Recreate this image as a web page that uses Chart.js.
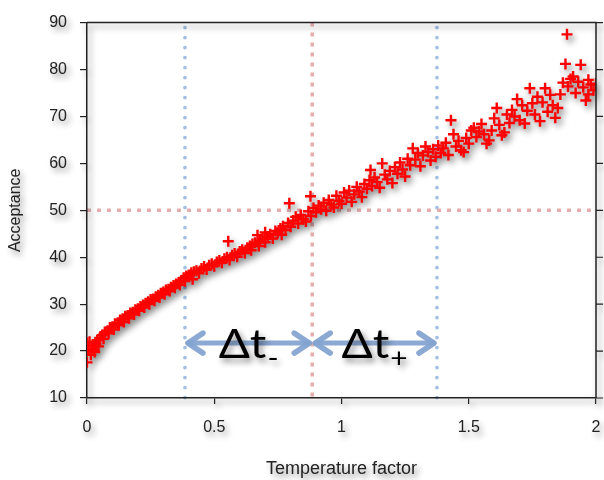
<!DOCTYPE html>
<html>
<head>
<meta charset="utf-8">
<script src="https://cdn.jsdelivr.net/npm/chart.js@4.4.0/dist/chart.umd.min.js"></script>
<style>
  body { margin: 0; background: #fff; }
  #wrap { width: 604px; height: 480px; }
</style>
</head>
<body>
<div id="wrap"><canvas id="acceptChart" width="604" height="480"></canvas></div>
<script>
// temperature factor vs. acceptance rate samples
const tempFactor = [
  0.00, 0.00, 0.005, 0.01, 0.015, 0.02, 0.025, 0.03, 0.035, 0.04, 0.045, 0.05, 0.06, 0.065, 0.07, 0.08, 0.085, 0.09,
  0.10, 0.105, 0.11, 0.12, 0.125, 0.13, 0.14, 0.145, 0.15, 0.16, 0.165, 0.17, 0.18, 0.185, 0.19,
  0.20, 0.205, 0.21, 0.22, 0.225, 0.23, 0.24, 0.245, 0.25, 0.26, 0.265, 0.27, 0.28, 0.285, 0.29,
  0.30, 0.305, 0.31, 0.32, 0.325, 0.33, 0.34, 0.345, 0.35, 0.36, 0.365, 0.37, 0.38, 0.385, 0.39,
  0.40, 0.415, 0.41, 0.42, 0.43, 0.44, 0.45, 0.46, 0.47, 0.48, 0.49,
  0.50, 0.51, 0.52, 0.53, 0.54, 0.55, 0.555, 0.56, 0.57, 0.58, 0.59,
  0.60, 0.61, 0.62, 0.63, 0.64, 0.645, 0.65, 0.66, 0.67, 0.675, 0.68, 0.69,
  0.70, 0.70, 0.71, 0.72, 0.73, 0.74, 0.75, 0.76, 0.765, 0.77, 0.78, 0.79, 0.795,
  0.80, 0.81, 0.82, 0.83, 0.84, 0.85, 0.86, 0.87, 0.878, 0.88, 0.89,
  0.90, 0.91, 0.92, 0.93, 0.94, 0.95, 0.96, 0.97, 0.98, 0.99,
  1.00, 1.01, 1.02, 1.03, 1.04, 1.05, 1.06, 1.07, 1.08, 1.09,
  1.10, 1.11, 1.114, 1.12, 1.13, 1.14, 1.15, 1.16, 1.17, 1.18, 1.19,
  1.20, 1.21, 1.22, 1.23, 1.24, 1.25, 1.26, 1.27, 1.28, 1.29,
  1.30, 1.31, 1.32, 1.33, 1.34, 1.35, 1.36, 1.37, 1.38, 1.39,
  1.40, 1.41, 1.42, 1.43, 1.44, 1.45, 1.46, 1.47, 1.48, 1.49,
  1.50, 1.51, 1.52, 1.53, 1.54, 1.55, 1.56, 1.57, 1.58, 1.59,
  1.60, 1.61, 1.62, 1.63, 1.64, 1.65, 1.66, 1.67, 1.68, 1.69,
  1.70, 1.71, 1.72, 1.73, 1.74, 1.75, 1.76, 1.77, 1.78, 1.79,
  1.80, 1.81, 1.82, 1.83, 1.84, 1.85, 1.86, 1.87, 1.88, 1.886, 1.89,
  1.90, 1.91, 1.92, 1.93, 1.94, 1.95, 1.96, 1.97, 1.97, 1.98, 1.99, 2.00
];
const acceptance = [
  17.6, 21.8, 20.5, 22.0, 19.2, 21.0, 20.2, 19.8, 21.5, 22.3, 21.0, 22.8, 23.4, 22.6, 24.0, 24.3, 23.8, 25.0,
  25.2, 24.6, 25.8, 26.0, 25.5, 26.6, 26.9, 26.2, 27.4, 27.6, 27.0, 28.1, 28.3, 27.8, 28.8,
  29.0, 28.6, 29.5, 29.8, 29.3, 30.2, 30.5, 30.0, 31.0, 31.1, 30.7, 31.6, 31.9, 31.4, 32.3,
  32.6, 32.1, 33.0, 33.2, 32.8, 33.6, 34.0, 33.5, 34.3, 34.6, 34.1, 35.0, 35.6, 34.9, 36.0,
  36.2, 35.3, 36.7, 36.9, 37.1, 36.6, 37.6, 38.0, 37.4, 38.3, 38.6,
  38.1, 39.0, 39.3, 38.8, 39.7, 40.0, 43.4, 39.4, 40.4, 40.8, 40.1,
  41.2, 41.6, 40.9, 42.0, 42.4, 41.5, 42.8, 43.1, 44.7, 42.4, 43.5, 44.0,
  43.2, 45.3, 44.4, 44.9, 44.0, 45.6, 45.2, 46.1, 44.8, 46.6, 45.8, 47.3, 51.5,
  46.5, 47.8, 48.6, 47.2, 49.0, 48.1, 47.6, 49.8, 53.0, 48.8, 50.5,
  49.6, 51.0, 50.2, 51.6, 49.9, 52.2, 51.2, 50.6, 53.1, 52.0,
  51.4, 53.8, 52.7, 54.2, 51.8, 53.4, 55.0, 54.0, 52.8, 55.6,
  54.6, 56.4, 58.6, 55.2, 57.0, 56.0, 54.8, 60.0, 57.6, 56.6, 58.4,
  55.8, 59.2, 57.8, 60.2, 58.7, 57.2, 61.0, 59.6, 63.2, 60.8,
  62.2, 59.4, 61.7, 63.6, 62.4, 60.6, 63.0, 61.4, 63.8, 62.2,
  63.2, 64.4, 61.8, 69.2, 66.2, 63.6, 64.8, 62.8, 62.4, 65.4,
  64.2, 67.0, 67.6, 65.6, 66.8, 68.4, 66.2, 64.2, 64.9, 67.0,
  69.6, 71.8, 68.2, 66.0, 66.6, 70.4, 68.6, 71.4, 70.0, 73.7,
  69.2, 72.4, 68.5, 71.2, 76.0, 72.8, 70.4, 74.2, 69.0, 73.0,
  76.0, 71.0, 74.6, 72.4, 69.7, 71.8, 74.7, 77.2, 81.2, 87.5, 76.4,
  78.0, 78.5, 75.0, 77.4, 81.0, 76.2, 73.4, 77.8, 74.7, 76.8, 75.6, 77.0
];

const xRange = [0, 2];
const yRange = [10, 90];

// guide positions
const tMinus = 0.385;
const tMid = 0.885;
const tPlus = 1.375;
const targetAcc = 50;
const arrowLevel = 21.7;
const gapLabels = [
  { from: tMinus, to: tMid, sub: '-' },
  { from: tMid, to: tPlus, sub: '+' }
];

const points = tempFactor.map((t, i) => ({ x: t, y: acceptance[i] }));

function drawGuides(chart) {
  const { ctx, chartArea: a, scales: { x, y } } = chart;
  ctx.strokeStyle = 'rgba(225,165,165,0.9)';
  ctx.lineWidth = 3.5;
  ctx.lineCap = 'butt';
  ctx.setLineDash([4, 6]);
  ctx.beginPath();
  ctx.moveTo(a.left, y.getPixelForValue(targetAcc));
  ctx.lineTo(a.right, y.getPixelForValue(targetAcc));
  ctx.moveTo(x.getPixelForValue(tMid), a.top);
  ctx.lineTo(x.getPixelForValue(tMid), a.bottom);
  ctx.stroke();

  ctx.strokeStyle = 'rgba(160,188,226,0.95)';
  ctx.lineWidth = 3.8;
  ctx.lineCap = 'round';
  ctx.setLineDash([0, 10]);
  ctx.beginPath();
  [tMinus, tPlus].forEach(t => {
    const px = x.getPixelForValue(t);
    ctx.moveTo(px, a.top + 5);
    ctx.lineTo(px, a.bottom);
  });
  ctx.stroke();
  ctx.setLineDash([]);
}

function drawArrows(chart) {
  const { ctx, scales: { x, y } } = chart;
  const py = y.getPixelForValue(arrowLevel);
  ctx.strokeStyle = 'rgba(130,162,208,0.92)';
  ctx.lineCap = 'round';
  ctx.lineJoin = 'round';
  gapLabels.forEach(g => {
    const x1 = x.getPixelForValue(g.from) + 3;
    const x2 = x.getPixelForValue(g.to) - 3;
    ctx.lineWidth = 5;
    ctx.beginPath();
    ctx.moveTo(x1, py);
    ctx.lineTo(x2, py);
    ctx.stroke();
    ctx.lineWidth = 5.5;
    ctx.beginPath();
    ctx.moveTo(x1 + 15, py - 10);
    ctx.lineTo(x1, py);
    ctx.lineTo(x1 + 15, py + 10);
    ctx.moveTo(x2 - 15, py - 10);
    ctx.lineTo(x2, py);
    ctx.lineTo(x2 - 15, py + 10);
    ctx.stroke();
  });
}

// Δt labels centred over each arrow
function drawGapText(chart) {
  const { ctx, scales: { x, y } } = chart;
  const py = y.getPixelForValue(arrowLevel);
  ctx.fillStyle = '#000';
  ctx.textBaseline = 'alphabetic';
  ctx.textAlign = 'left';
  gapLabels.forEach(g => {
    const cx = (x.getPixelForValue(g.from) + x.getPixelForValue(g.to)) / 2;
    ctx.font = '40px Lato';
    const wMain = ctx.measureText('Δt').width;
    ctx.font = '26px Lato';
    const wSub = ctx.measureText(g.sub).width;
    const sx = 1.15;
    const total = (wMain + wSub + 1) * sx;
    ctx.save();
    ctx.translate(cx - total / 2, py + 15);
    ctx.scale(sx, 1);
    ctx.font = '40px Lato';
    ctx.fillText('Δt', 0, 0);
    ctx.font = '26px Lato';
    ctx.fillText(g.sub, wMain + 1, 9);
    ctx.restore();
  });
}

const annotatePlugin = {
  id: 'annotate',
  afterDatasetsDraw(chart) {
    const ctx = chart.ctx;
    ctx.save();
    drawGapText(chart);
    ctx.restore();

    // top and right frame with outward ticks on the right
    const { chartArea: a, scales: { y } } = chart;
    ctx.save();
    ctx.strokeStyle = '#222';
    ctx.lineWidth = 1.5;
    ctx.beginPath();
    ctx.moveTo(a.left, a.top);
    ctx.lineTo(a.right, a.top);
    ctx.lineTo(a.right, a.bottom);
    ctx.stroke();
    ctx.lineWidth = 1.2;
    ctx.beginPath();
    for (let v = yRange[0]; v <= yRange[1]; v += 10) {
      const py = y.getPixelForValue(v);
      ctx.moveTo(a.right, py);
      ctx.lineTo(a.right + 7, py);
    }
    ctx.stroke();
    ctx.restore();
  },
  afterDraw(chart) {
    // soft drop shadow under everything drawn so far, then arrows and guides beneath
    const { ctx, canvas } = chart;
    const copy = document.createElement('canvas');
    copy.width = canvas.width;
    copy.height = canvas.height;
    copy.getContext('2d').drawImage(canvas, 0, 0);
    ctx.save();
    ctx.setTransform(1, 0, 0, 1, 0, 0);
    ctx.globalCompositeOperation = 'destination-over';
    ctx.filter = 'blur(3px) brightness(0) opacity(0.45)';
    ctx.drawImage(copy, 3, 4);
    ctx.filter = 'none';
    ctx.restore();

    ctx.save();
    ctx.globalCompositeOperation = 'destination-over';
    drawArrows(chart);
    drawGuides(chart);
    ctx.restore();
  }
};

const tickFont = { family: "'Liberation Sans', Arial, sans-serif", size: 16 };

new Chart(document.getElementById('acceptChart'), {
  type: 'scatter',
  data: {
    datasets: [{
      label: 'Acceptance',
      data: points,
      pointStyle: 'cross',
      pointRadius: 5.5,
      borderWidth: 2.4,
      borderColor: '#ff0000',
      backgroundColor: '#ff0000'
    }]
  },
  options: {
    responsive: false,
    animation: false,
    layout: { padding: { top: 15, right: 8, left: 0, bottom: 0 } },
    plugins: { legend: { display: false }, tooltip: { enabled: false } },
    scales: {
      x: {
        type: 'linear',
        min: xRange[0],
        max: xRange[1],
        ticks: { stepSize: 0.5, color: '#222', font: tickFont, padding: 14, maxRotation: 0, callback: v => String(v) },
        grid: { drawOnChartArea: false, tickLength: 6, color: '#222', lineWidth: 1.2 },
        border: { color: '#222', width: 1.5 },
        title: {
          display: true,
          text: 'Temperature factor',
          color: '#222',
          font: { family: "'Liberation Sans', Arial, sans-serif", size: 18 },
          padding: { bottom: 0 }
        },
        afterFit(scale) {
          scale.height = 82;
          scale.paddingLeft = 0;
          scale.paddingRight = 0;
        }
      },
      y: {
        type: 'linear',
        min: yRange[0],
        max: yRange[1],
        ticks: { stepSize: 10, color: '#222', font: tickFont, padding: 13 },
        grid: { drawOnChartArea: false, tickLength: 7, color: '#222', lineWidth: 1.2 },
        border: { color: '#222', width: 1.5 },
        title: {
          display: true,
          text: 'Acceptance',
          color: '#222',
          font: { family: "'Liberation Sans', Arial, sans-serif", size: 16 },
          padding: { top: 6 }
        },
        afterFit(scale) { scale.width = 87; }
      }
    }
  },
  plugins: [annotatePlugin]
});
</script>
</body>
</html>
